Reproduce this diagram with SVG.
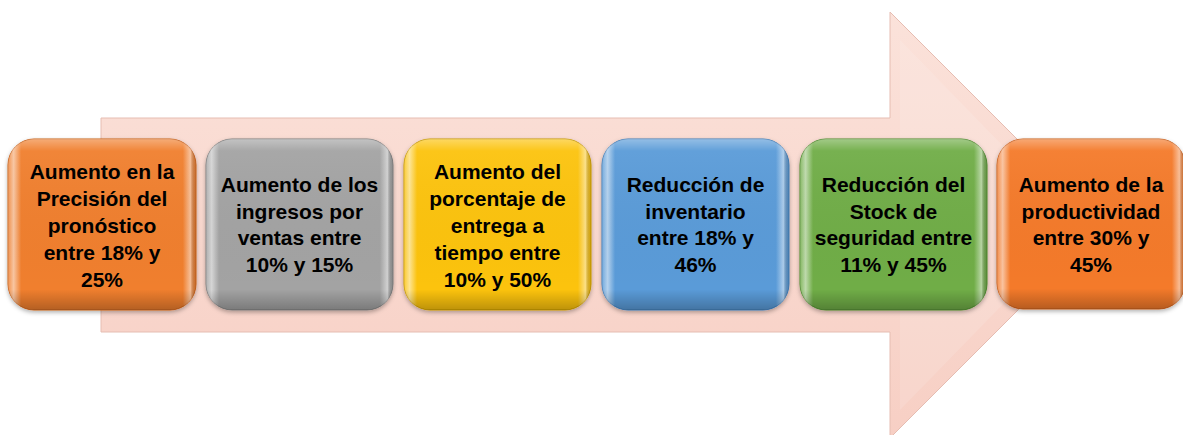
<svg xmlns="http://www.w3.org/2000/svg" width="1183" height="435" viewBox="0 0 1183 435">
<defs>
<linearGradient id="arrowFill" x1="0" y1="0" x2="0" y2="1">
<stop offset="0" stop-color="#FBE2DA"/>
<stop offset="1" stop-color="#F7CFC4"/>
</linearGradient>
<linearGradient id="edgeH" x1="0" y1="0" x2="1" y2="0">
<stop offset="0" stop-color="#fff" stop-opacity="0.15"/>
<stop offset="0.03" stop-color="#fff" stop-opacity="0.55"/>
<stop offset="0.07" stop-color="#fff" stop-opacity="0"/>
<stop offset="0.93" stop-color="#fff" stop-opacity="0"/>
<stop offset="0.97" stop-color="#fff" stop-opacity="0.5"/>
<stop offset="1" stop-color="#000" stop-opacity="0.1"/>
</linearGradient>
<linearGradient id="edgeV" x1="0" y1="0" x2="0" y2="1">
<stop offset="0" stop-color="#fff" stop-opacity="0.35"/>
<stop offset="0.07" stop-color="#fff" stop-opacity="0.05"/>
<stop offset="0.88" stop-color="#000" stop-opacity="0"/>
<stop offset="1" stop-color="#000" stop-opacity="0.25"/>
</linearGradient>
<filter id="shadow" x="-10%" y="-10%" width="120%" height="125%">
<feDropShadow dx="0" dy="2" stdDeviation="2" flood-color="#000" flood-opacity="0.3"/>
</filter>
</defs>
<style>
.box { stroke-width: 1; filter: url(#shadow); }
.ov1 { fill: url(#edgeH); }
.ov2 { fill: url(#edgeV); }
.lbl { font-family: "Liberation Sans", Arial, sans-serif; font-weight: bold; font-size: 21px; fill: #000; text-anchor: middle; }
</style>
<g id="arrow">
<polygon points="101,118 890,118 890,12 1103,225 890,438 890,332 101,332" fill="url(#arrowFill)" stroke="#E6BDB2" stroke-width="1"/>
<polygon points="900,40 1080,225 900,410" fill="#fff" fill-opacity="0.12"/>
</g>
<g id="connectors"></g>
<g id="node1">
<rect class="box" x="8" y="139" width="188" height="171" rx="26" fill="#F07F2E" stroke="#C8621C"/>
<rect class="ov1" x="8" y="139" width="188" height="171" rx="26"/>
<rect class="ov2" x="8" y="139" width="188" height="171" rx="26"/>
<text class="lbl" x="102" y="179">Aumento en la</text>
<text class="lbl" x="102" y="206">Precisión del</text>
<text class="lbl" x="102" y="233">pronóstico</text>
<text class="lbl" x="102" y="260">entre 18% y</text>
<text class="lbl" x="102" y="287">25%</text>
</g>
<g id="node2">
<rect class="box" x="206" y="139" width="187" height="171" rx="26" fill="#A3A3A3" stroke="#7F7F7F"/>
<rect class="ov1" x="206" y="139" width="187" height="171" rx="26"/>
<rect class="ov2" x="206" y="139" width="187" height="171" rx="26"/>
<text class="lbl" x="299.5" y="192">Aumento de los</text>
<text class="lbl" x="299.5" y="219">ingresos por</text>
<text class="lbl" x="299.5" y="245">ventas entre</text>
<text class="lbl" x="299.5" y="272">10% y 15%</text>
</g>
<g id="node3">
<rect class="box" x="404" y="139" width="187" height="171" rx="26" fill="#FCC30C" stroke="#C99A00"/>
<rect class="ov1" x="404" y="139" width="187" height="171" rx="26"/>
<rect class="ov2" x="404" y="139" width="187" height="171" rx="26"/>
<text class="lbl" x="497.5" y="179">Aumento del</text>
<text class="lbl" x="497.5" y="206">porcentaje de</text>
<text class="lbl" x="497.5" y="233">entrega a</text>
<text class="lbl" x="497.5" y="260">tiempo entre</text>
<text class="lbl" x="497.5" y="287">10% y 50%</text>
</g>
<g id="node4">
<rect class="box" x="602" y="139" width="187" height="171" rx="26" fill="#5A9BD8" stroke="#3F7DB8"/>
<rect class="ov1" x="602" y="139" width="187" height="171" rx="26"/>
<rect class="ov2" x="602" y="139" width="187" height="171" rx="26"/>
<text class="lbl" x="695.5" y="192">Reducción de</text>
<text class="lbl" x="695.5" y="219">inventario</text>
<text class="lbl" x="695.5" y="245">entre 18% y</text>
<text class="lbl" x="695.5" y="272">46%</text>
</g>
<g id="node5">
<rect class="box" x="800" y="139" width="187" height="171" rx="26" fill="#6FAD46" stroke="#4E8A2E"/>
<rect class="ov1" x="800" y="139" width="187" height="171" rx="26"/>
<rect class="ov2" x="800" y="139" width="187" height="171" rx="26"/>
<text class="lbl" x="893.5" y="192">Reducción del</text>
<text class="lbl" x="893.5" y="219">Stock de</text>
<text class="lbl" x="893.5" y="245">seguridad entre</text>
<text class="lbl" x="893.5" y="272">11% y 45%</text>
</g>
<g id="node6">
<rect class="box" x="997" y="139" width="188" height="170" rx="26" fill="#F47A2C" stroke="#C85E1A"/>
<rect class="ov1" x="997" y="139" width="188" height="170" rx="26"/>
<rect class="ov2" x="997" y="139" width="188" height="170" rx="26"/>
<text class="lbl" x="1091" y="192">Aumento de la</text>
<text class="lbl" x="1091" y="219">productividad</text>
<text class="lbl" x="1091" y="245">entre 30% y</text>
<text class="lbl" x="1091" y="272">45%</text>
</g>
</svg>
